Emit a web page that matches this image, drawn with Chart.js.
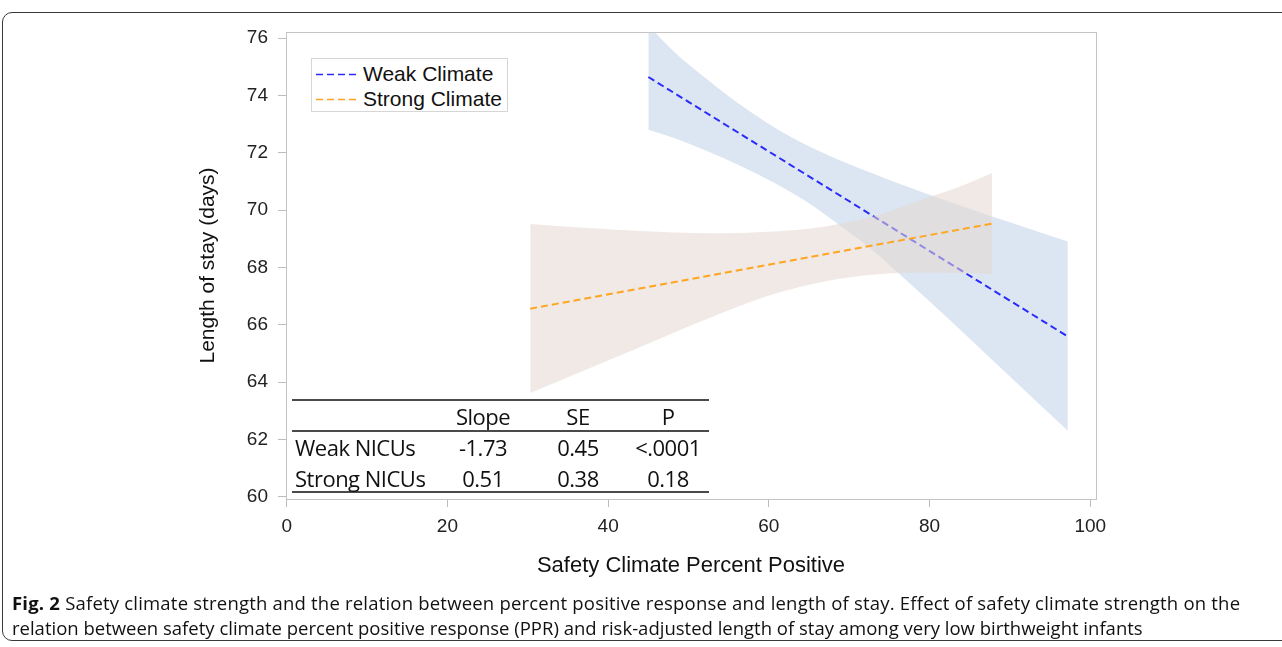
<!DOCTYPE html>
<html><head><meta charset="utf-8">
<script src="https://cdn.jsdelivr.net/npm/chart.js@4.4.1/dist/chart.umd.min.js"></script>
<style>
html,body{margin:0;padding:0;background:#fff;}
body{width:1282px;height:647px;position:relative;overflow:hidden;}
#frame{position:absolute;left:2px;top:12px;width:1300px;height:627px;border:1.5px solid #3a3a3a;border-radius:10px;}
#c{position:absolute;left:0;top:0;}
.legend{position:absolute;left:311px;top:58px;width:195px;height:52px;border:1px solid #d6d6d6;background:#fff;font-family:"Liberation Sans",Arial,sans-serif;font-size:21px;color:#111;}
.legend .it{position:absolute;left:0;height:24px;line-height:24px;white-space:nowrap;}
.legend svg{position:absolute;left:4px;top:11px;}
.legend span{position:absolute;left:51px;top:0;}
.rule{position:absolute;left:292px;width:417px;height:2px;background:#4a4a4a;}
.cell{position:absolute;font-family:"Open Sans",sans-serif;font-size:22px;color:#111;white-space:nowrap;transform:translate(-50%,-50%);letter-spacing:-0.5px;}
.cell.lab{transform:translate(0,-50%);}
#cap{position:absolute;left:12px;top:590px;width:1268px;font-family:"Open Sans",sans-serif;font-size:18.5px;line-height:25px;color:#111;white-space:nowrap;}
#cap .l1{letter-spacing:0.2px;}
#cap .l2{letter-spacing:0px;}
</style></head>
<body>
<div id="frame"></div>
<canvas id="c" width="1282" height="647"></canvas>
<div class="legend" id="legend"></div>
<div id="table"></div>
<div id="cap"><span class="l1"><b>Fig. 2</b> Safety climate strength and the relation between percent positive response and length of stay. Effect of safety climate strength on the</span><br><span class="l2">relation between safety climate percent positive response (PPR) and risk-adjusted length of stay among very low birthweight infants</span></div>
<script>
// ---- data ----
const seriesNames = ['Weak Climate', 'Strong Climate'];
const weakLineX = [45.0, 97.2];
const weakLineY = [74.64, 65.59];
const strongLineX = [30.3, 87.8];
const strongLineY = [66.56, 69.53];

const weakBandX = [45.0, 48.2, 52.3, 56.5, 60.6, 64.8, 68.9, 73.1, 77.2, 81.4, 85.5, 89.7, 93.8, 97.2];
const weakUpper = [76.45, 75.52, 74.56, 73.66, 72.90, 72.25, 71.73, 71.26, 70.82, 70.39, 69.99, 69.60, 69.22, 68.90];
const weakLower = [72.80, 72.51, 72.06, 71.54, 70.96, 70.27, 69.45, 68.55, 67.52, 66.45, 65.38, 64.27, 63.19, 62.30];

const strongBandX = [30.3, 37.0, 44.0, 52.3, 60.6, 66.8, 73.1, 80.1, 84.0, 87.8];
const strongUpper = [69.51, 69.38, 69.27, 69.19, 69.25, 69.42, 69.78, 70.47, 70.84, 71.29];
const strongLower = [63.62, 64.40, 65.22, 66.20, 67.07, 67.50, 67.75, 67.82, 67.80, 67.76];

const xTicks = [0, 20, 40, 60, 80, 100];
const yTicks = [60, 62, 64, 66, 68, 70, 72, 74, 76];

const tableHeader = ['Slope', 'SE', 'P'];
const tableRowLabels = ['Weak NICUs', 'Strong NICUs'];
const tableSlope = ['-1.73', '0.51'];
const tableSE = ['0.45', '0.38'];
const tableP = ['<.0001', '0.18'];

// ---- styles ----
const weakColor = '#2b2bf8';
const strongColor = '#ffa51f';
const weakFill = 'rgb(220,230,242)';
const strongFill = 'rgba(228,215,208,0.55)';

const pts = (xs, ys) => xs.map((x, i) => ({x: x, y: ys[i]}));

const datasets = [
  {label: seriesNames[1], data: pts(strongLineX, strongLineY), showLine: true, borderColor: strongColor, borderWidth: 2, borderDash: [7, 4], pointRadius: 0, fill: false},
  {label: 'strongUpper', data: pts(strongBandX, strongUpper), showLine: true, borderWidth: 0, borderColor: 'rgba(0,0,0,0)', backgroundColor: strongFill, pointRadius: 0, fill: '+1', cubicInterpolationMode: 'monotone'},
  {label: 'strongLower', data: pts(strongBandX, strongLower), showLine: true, borderWidth: 0, borderColor: 'rgba(0,0,0,0)', pointRadius: 0, fill: false, cubicInterpolationMode: 'monotone'},
  {label: seriesNames[0], data: pts(weakLineX, weakLineY), showLine: true, borderColor: weakColor, borderWidth: 2, borderDash: [7, 4], pointRadius: 0, fill: false},
  {label: 'weakUpper', data: pts(weakBandX, weakUpper), showLine: true, borderWidth: 0, borderColor: 'rgba(0,0,0,0)', backgroundColor: weakFill, pointRadius: 0, fill: '+1', cubicInterpolationMode: 'monotone'},
  {label: 'weakLower', data: pts(weakBandX, weakLower), showLine: true, borderWidth: 0, borderColor: 'rgba(0,0,0,0)', pointRadius: 0, fill: false, cubicInterpolationMode: 'monotone'}
];

const framePlugin = {
  id: 'frame',
  afterDraw(chart) {
    const a = chart.chartArea, ctx = chart.ctx;
    ctx.save();
    ctx.strokeStyle = '#c4c4c4';
    ctx.lineWidth = 1;
    ctx.strokeRect(Math.round(a.left) + 0.5, Math.round(a.top) + 0.5, Math.round(a.right - a.left), Math.round(a.bottom - a.top));
    ctx.restore();
  }
};

const tickFont = {family: '"Liberation Sans", Arial, sans-serif', size: 19};
const xTitleFont = {family: '"Liberation Sans", Arial, sans-serif', size: 22};
const yTitleFont = {family: '"Liberation Sans", Arial, sans-serif', size: 21};

new Chart(document.getElementById('c'), {
  type: 'scatter',
  data: {datasets: datasets},
  options: {
    responsive: false,
    animation: false,
    layout: {padding: {left: 190, top: 32, right: 186, bottom: 68}},
    plugins: {legend: {display: false}, tooltip: {enabled: false}},
    scales: {
      x: {
        type: 'linear', min: -0.09, max: 100.71,
        afterBuildTicks: s => { s.ticks = xTicks.map(v => ({value: v})); },
        afterFit: s => { s.height = 80; },
        ticks: {font: tickFont, color: '#222', padding: 8, maxRotation: 0},
        grid: {drawOnChartArea: false, drawTicks: true, tickLength: 8, color: '#bdbdbd'},
        border: {color: '#c4c4c4'},
        title: {display: true, text: 'Safety Climate Percent Positive', font: xTitleFont, color: '#111', padding: {top: 0, bottom: 0}}
      },
      y: {
        type: 'linear', min: 59.92, max: 76.21,
        afterBuildTicks: s => { s.ticks = yTicks.map(v => ({value: v})); },
        afterFit: s => { s.width = 96; },
        ticks: {font: tickFont, color: '#222', padding: 10},
        grid: {drawOnChartArea: false, drawTicks: true, tickLength: 8, color: '#bdbdbd'},
        border: {color: '#c4c4c4'},
        title: {display: true, text: 'Length of stay (days)', font: yTitleFont, color: '#111', padding: {top: 6, bottom: 0}}
      }
    }
  },
  plugins: [framePlugin]
});

// legend (HTML)
const legend = document.getElementById('legend');
[[seriesNames[0], weakColor, 15], [seriesNames[1], strongColor, 40]].forEach(([name, col, cy]) => {
  const d = document.createElement('div');
  d.className = 'it';
  d.style.top = (cy - 12) + 'px';
  d.innerHTML = '<svg width="42" height="3"><line x1="0" y1="1.5" x2="40" y2="1.5" stroke="' + col + '" stroke-width="1.6" stroke-dasharray="7,4"/></svg><span>' + name + '</span>';
  legend.appendChild(d);
});

// statistics table (HTML)
const table = document.getElementById('table');
[400, 431, 492].forEach(y => {
  const r = document.createElement('div'); r.className = 'rule'; r.style.top = (y - 1) + 'px'; table.appendChild(r);
});
const colX = [483, 578, 668];
const rowY = [447, 478];
function cell(text, x, y, lab) {
  const c = document.createElement('div');
  c.className = 'cell' + (lab ? ' lab' : '');
  c.style.left = x + 'px'; c.style.top = y + 'px';
  c.textContent = text;
  table.appendChild(c);
}
tableHeader.forEach((h, i) => cell(h, colX[i], 416));
tableRowLabels.forEach((lab, r) => {
  cell(lab, 295, rowY[r], true);
  cell(tableSlope[r], colX[0], rowY[r]);
  cell(tableSE[r], colX[1], rowY[r]);
  cell(tableP[r], colX[2], rowY[r]);
});
</script>
</body></html>
